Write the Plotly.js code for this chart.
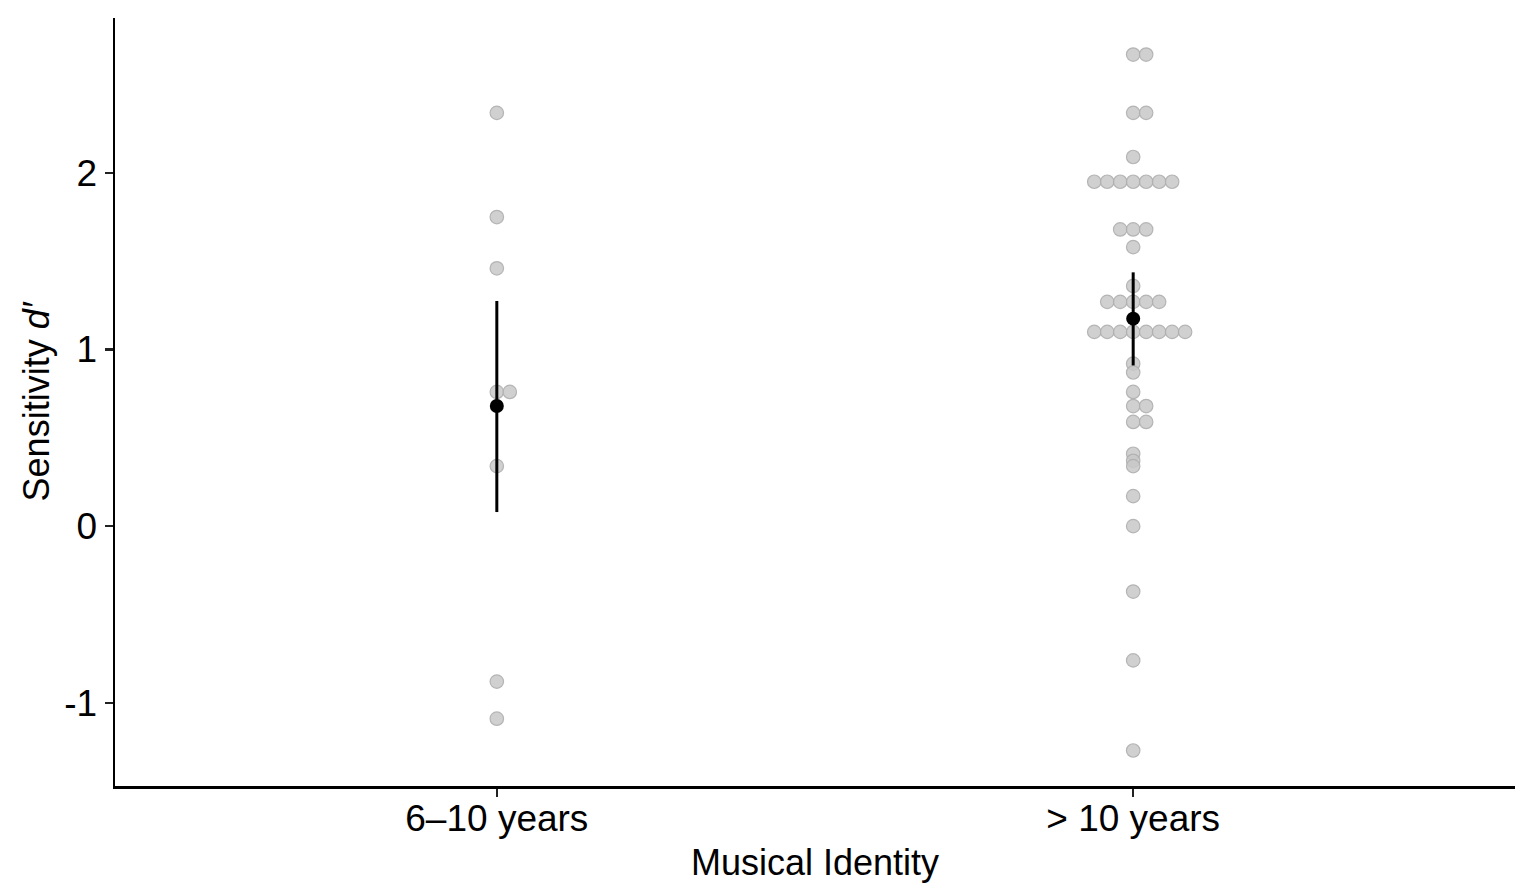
<!DOCTYPE html>
<html>
<head>
<meta charset="utf-8">
<script src="https://cdn.plot.ly/plotly-3.0.1.min.js"></script>
<style>
  html, body { margin: 0; padding: 0; background: #fff; }
  #plot { width: 1535px; height: 889px; }
</style>
</head>
<body>
<div id="plot"></div>
<script>
// groups on the x axis
var groups = ["6\u201310 years", "> 10 years"];

// individual d' scores
var scoresYoung = [2.34, 1.75, 1.46, 0.76, 0.76, 0.34, -0.88, -1.09];
var scoresOld = [2.67, 2.67, 2.34, 2.34, 2.09,
    1.95, 1.95, 1.95, 1.95, 1.95, 1.95, 1.95,
    1.68, 1.68, 1.68, 1.58, 1.36,
    1.27, 1.27, 1.27, 1.27, 1.27,
    1.10, 1.10, 1.10, 1.10, 1.10, 1.10, 1.10, 1.10,
    0.92, 0.87, 0.76, 0.68, 0.68, 0.59, 0.59,
    0.41, 0.37, 0.34, 0.17, 0.00, -0.37, -0.76, -1.27];

// group means and intervals
var meanVals = [0.68, 1.175];
var ciLow = [0.08, 0.91];
var ciHigh = [1.275, 1.437];

// y tick labels (plain hyphen like the original)
var yTickVals = [-1, 0, 1, 2];
var yTickText = ["-1", "0", "1", "2"];

// spread equal values sideways, dot-plot style
var step = 0.0204;
function stack(values, center) {
    var counts = {};
    values.forEach(function(v) { counts[v] = (counts[v] || 0) + 1; });
    var seen = {};
    var xs = [];
    values.forEach(function(v) {
        var n = counts[v];
        var k = seen[v] || 0;
        seen[v] = k + 1;
        xs.push(center + (k - Math.floor((n - 1) / 2)) * step);
    });
    return xs;
}

var dotStyle = {
    size: 13.5,
    color: "rgba(200,200,200,0.85)",
    line: { color: "rgba(175,175,175,0.9)", width: 1.2 }
};

var traceYoung = {
    x: stack(scoresYoung, 0),
    y: scoresYoung,
    mode: "markers",
    type: "scatter",
    marker: dotStyle,
    hoverinfo: "y"
};

var traceOld = {
    x: stack(scoresOld, 1),
    y: scoresOld,
    mode: "markers",
    type: "scatter",
    marker: dotStyle,
    hoverinfo: "y"
};

var traceMean = {
    x: [0, 1],
    y: meanVals,
    mode: "markers",
    type: "scatter",
    marker: { size: 14, color: "#000" },
    error_y: {
        type: "data",
        symmetric: false,
        array: ciHigh.map(function(h, i) { return h - meanVals[i]; }),
        arrayminus: ciLow.map(function(l, i) { return meanVals[i] - l; }),
        color: "#000",
        thickness: 3,
        width: 0
    }
};

var font = { family: "Liberation Sans, Arial, sans-serif", color: "#000" };

var layout = {
    width: 1535,
    height: 889,
    margin: { l: 115, r: 20, t: 18, b: 103 },
    paper_bgcolor: "#fff",
    plot_bgcolor: "#fff",
    showlegend: false,
    font: font,
    xaxis: {
        range: [-0.6, 1.6],
        tickvals: [0, 1],
        ticktext: groups,
        tickfont: { size: 37, color: "#000" },
        ticks: "outside",
        ticklen: 8,
        tickwidth: 2.5,
        tickcolor: "#222",
        ticklabelstandoff: -10,
        showline: true,
        linecolor: "#000",
        linewidth: 2.5,
        showgrid: false,
        zeroline: false,
        title: { text: "Musical Identity", font: { size: 36, color: "#000" }, standoff: 12 }
    },
    yaxis: {
        range: [-1.471, 2.877],
        tickvals: yTickVals,
        ticktext: yTickText,
        tickfont: { size: 37, color: "#000" },
        ticks: "outside",
        ticklen: 8,
        tickwidth: 2.5,
        tickcolor: "#222",
        showline: true,
        linecolor: "#000",
        linewidth: 2.5,
        showgrid: false,
        zeroline: false,
        title: { text: "Sensitivity <i>d\u2032</i>", font: { size: 36, color: "#000" }, standoff: 4 }
    }
};

Plotly.newPlot("plot", [traceYoung, traceOld, traceMean], layout, { staticPlot: true });
</script>
</body>
</html>
